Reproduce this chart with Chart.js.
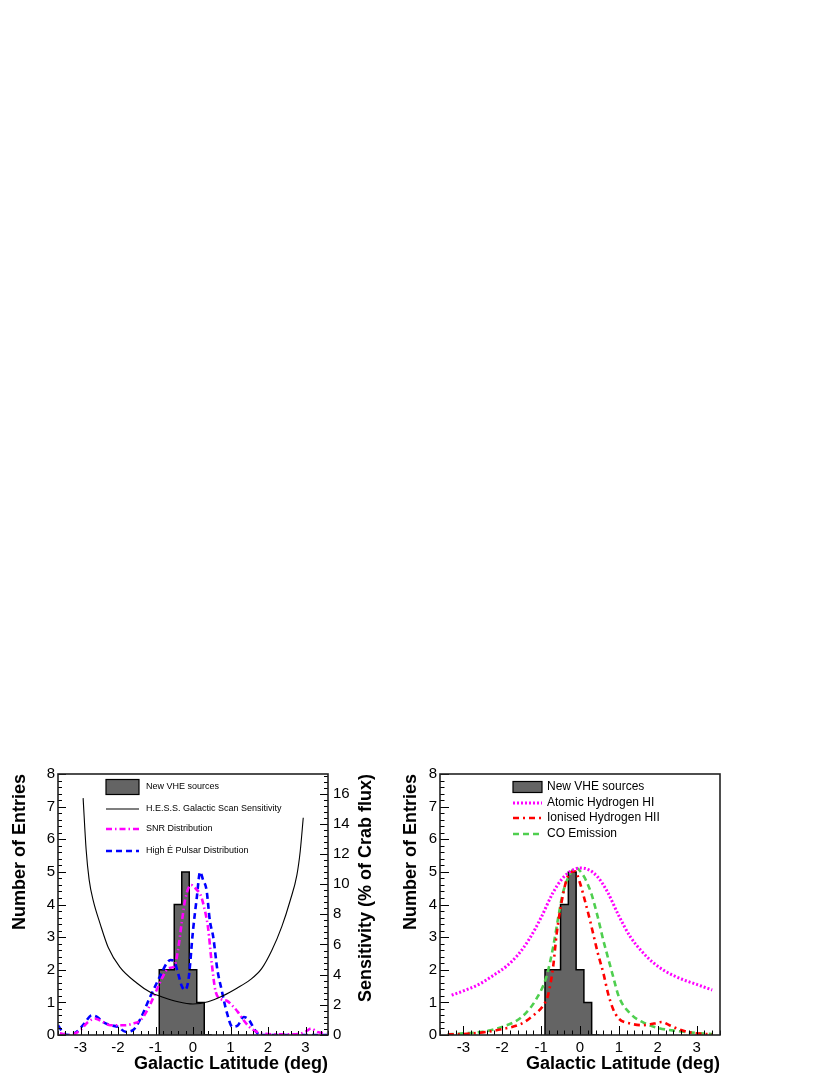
<!DOCTYPE html>
<html>
<head>
<meta charset="utf-8">
<script src="https://cdn.jsdelivr.net/npm/chart.js@4.4.0/dist/chart.umd.min.js"></script>
<style>
  html, body { margin: 0; padding: 0; background: #fff; }
  body { width: 830px; height: 1075px; position: relative; overflow: hidden; }
  canvas { position: absolute; }
  #left { left: 0; top: 740px; }
  #right { left: 400px; top: 740px; }
</style>
</head>
<body>
<canvas id="left" width="400" height="335"></canvas>
<canvas id="right" width="430" height="335"></canvas>
<script>
// histogram of the new sources (same in both panels)
const binCenters = [-0.8, -0.6, -0.4, -0.2, 0.0, 0.2, 0.4];
const binCounts = [1, 2, 2, 4, 5, 2, 1];
const binWidth = 0.2;
const xTickValues = [-3, -2, -1, 0, 1, 2, 3];

// left panel curves
const sensLat = [-2.93, -2.85, -2.77, -2.66, -2.48, -2.26, -1.95, -1.5, -1.15, -0.8, -0.4, 0, 0.4, 0.8, 1.17, 1.52, 1.83, 2.1, 2.37, 2.59, 2.77, 2.86, 2.94];
const sensValue = [15.7, 12.3, 10.3, 8.9, 7.4, 5.8, 4.5, 3.45, 2.85, 2.5, 2.2, 2.05, 2.2, 2.6, 3.1, 3.65, 4.4, 5.6, 7.2, 8.9, 10.6, 12.2, 14.4];

const snrLat = [-3.55, -3.3, -3.0, -2.8, -2.6, -2.4, -2.2, -2.0, -1.8, -1.6, -1.4, -1.2, -1.0, -0.8, -0.65, -0.5, -0.4, -0.3, -0.2, -0.05, 0.1, 0.2, 0.3, 0.4, 0.5, 0.6, 0.75, 0.9, 1.05, 1.2, 1.35, 1.5, 1.7, 2.0, 2.4, 2.8, 3.0, 3.15, 3.3, 3.55];
const snrValue = [0.05, 0.0, 0.15, 0.4, 0.5, 0.4, 0.3, 0.3, 0.3, 0.35, 0.45, 0.8, 1.3, 1.8, 2.05, 2.1, 2.6, 3.45, 4.2, 4.6, 4.45, 4.3, 3.9, 3.3, 2.2, 1.35, 1.1, 1.05, 0.9, 0.7, 0.45, 0.25, 0.1, 0.03, 0.02, 0.03, 0.1, 0.2, 0.1, 0.05];

const psrLat = [-3.6, -3.45, -3.3, -3.1, -2.9, -2.7, -2.55, -2.4, -2.2, -2.0, -1.8, -1.6, -1.4, -1.15, -0.88, -0.7, -0.6, -0.5, -0.4, -0.3, -0.22, -0.12, 0.0, 0.1, 0.19, 0.27, 0.36, 0.45, 0.54, 0.65, 0.76, 0.9, 1.05, 1.2, 1.35, 1.5, 1.65, 1.8, 2.0, 3.6];
const psrValue = [0.3, 0.05, 0.0, 0.1, 0.35, 0.6, 0.55, 0.4, 0.3, 0.25, 0.1, 0.15, 0.5, 1.15, 1.8, 2.2, 2.3, 2.25, 1.9, 1.5, 1.38, 1.7, 3.2, 4.2, 5.0, 4.75, 4.45, 3.5, 3.0, 2.0, 1.4, 0.7, 0.25, 0.3, 0.55, 0.45, 0.15, 0.0, 0.0, 0.0];

// right panel curves
const hiLat = [-3.3, -3.0, -2.6, -2.2, -1.9, -1.6, -1.3, -1.0, -0.7, -0.45, -0.2, 0.0, 0.2, 0.45, 0.7, 1.0, 1.3, 1.6, 1.9, 2.2, 2.6, 3.0, 3.4];
const hiValue = [1.22, 1.35, 1.55, 1.85, 2.1, 2.45, 2.95, 3.6, 4.35, 4.8, 5.05, 5.12, 5.08, 4.85, 4.4, 3.65, 3.0, 2.55, 2.2, 1.95, 1.72, 1.55, 1.38];

const hiiLat = [-3.4, -3.0, -2.5, -2.0, -1.5, -1.2, -0.95, -0.82, -0.69, -0.6, -0.47, -0.3, -0.13, 0.0, 0.13, 0.26, 0.34, 0.46, 0.6, 0.72, 0.85, 1.0, 1.3, 1.6, 1.9, 2.1, 2.3, 2.6, 3.0, 3.4];
const hiiValue = [0.02, 0.03, 0.08, 0.18, 0.35, 0.6, 0.9, 1.23, 2.1, 3.1, 4.1, 4.9, 5.02, 4.66, 4.1, 3.5, 3.1, 2.5, 1.9, 1.28, 0.8, 0.5, 0.35, 0.3, 0.35, 0.4, 0.3, 0.15, 0.05, 0.02];

const coLat = [-3.4, -3.0, -2.5, -2.0, -1.5, -1.11, -0.86, -0.69, -0.56, -0.44, -0.25, -0.1, 0.05, 0.15, 0.3, 0.46, 0.6, 0.69, 0.85, 1.0, 1.3, 1.6, 2.0, 2.5, 3.0, 3.4];
const coValue = [0.02, 0.05, 0.1, 0.25, 0.55, 1.13, 1.8, 2.7, 3.6, 4.35, 4.95, 5.12, 4.95, 4.75, 4.3, 3.6, 2.9, 2.5, 1.8, 1.17, 0.65, 0.4, 0.22, 0.12, 0.06, 0.03];

const FONT = '"Liberation Sans", Arial, Helvetica, sans-serif';

function pts(xs, ys) {
    return xs.map((x, i) => ({ x: x, y: ys[i] }));
}

function histPoints() {
    const out = [{ x: binCenters[0] - binWidth / 2, y: 0 }];
    binCenters.forEach((c, i) => out.push({ x: c - binWidth / 2, y: binCounts[i] }));
    out.push({ x: binCenters[binCenters.length - 1] + binWidth / 2, y: 0 });
    return out;
}

function histDataset() {
    return {
        label: 'New VHE sources',
        data: histPoints(),
        stepped: 'after',
        fill: 'origin',
        backgroundColor: '#646464',
        borderColor: '#000',
        borderWidth: 1.5,
        pointRadius: 0,
        order: 10
    };
}

function curve(label, xs, ys, color, dash, width, axis) {
    return {
        label: label,
        data: pts(xs, ys),
        borderColor: color,
        borderDash: dash,
        borderWidth: width,
        pointRadius: 0,
        fill: false,
        cubicInterpolationMode: 'monotone',
        yAxisID: axis || 'y',
        order: 1
    };
}

// ROOT-like frame with ticks pointing inside
const frameTicks = {
    id: 'frameTicks',
    afterDatasetsDraw(chart, args, opts) {
        const { ctx, chartArea: a, scales } = chart;
        ctx.save();
        ctx.strokeStyle = '#000';
        ctx.lineWidth = 1;
        (opts.axes || []).forEach(ax => {
            const s = scales[ax.id];
            const minor = ax.major / ax.div;
            const n0 = Math.ceil(s.min / minor - 1e-6), n1 = Math.floor(s.max / minor + 1e-6);
            for (let n = n0; n <= n1; n++) {
                const v = n * minor;
                const isMajor = n % ax.div === 0;
                const len = isMajor ? ax.len : ax.len / 2;
                const p = Math.round(s.getPixelForValue(v)) + 0.5;
                ctx.beginPath();
                if (ax.side === 'bottom') { ctx.moveTo(p, a.bottom); ctx.lineTo(p, a.bottom - len); }
                if (ax.side === 'left') { ctx.moveTo(a.left, p); ctx.lineTo(a.left + len, p); }
                if (ax.side === 'right') { ctx.moveTo(a.right, p); ctx.lineTo(a.right - len, p); }
                ctx.stroke();
            }
        });
        ctx.lineWidth = 1.6;
        ctx.strokeStyle = '#222';
        ctx.strokeRect(a.left, a.top, a.right - a.left, a.bottom - a.top);
        if (opts.rightTitle) {
            ctx.save();
            ctx.translate(opts.rightTitle.x, a.top);
            ctx.rotate(-Math.PI / 2);
            ctx.fillStyle = '#000';
            ctx.font = 'bold 18px ' + FONT;
            ctx.textAlign = 'right';
            ctx.textBaseline = 'middle';
            ctx.fillText(opts.rightTitle.text, 0, 0);
            ctx.restore();
        }
        ctx.restore();
    }
};

const boxLegend = {
    id: 'boxLegend',
    afterDraw(chart, args, opts) {
        const ctx = chart.ctx;
        ctx.save();
        ctx.font = opts.fontSize + 'px ' + FONT;
        ctx.textBaseline = 'middle';
        ctx.fillStyle = '#000';
        opts.items.forEach((it, i) => {
            const y = opts.rows[i];
            if (it.box) {
                ctx.fillStyle = '#646464';
                ctx.fillRect(opts.x0, y - opts.boxH / 2, opts.x1 - opts.x0, opts.boxH);
                ctx.strokeStyle = '#000';
                ctx.lineWidth = 1.2;
                ctx.setLineDash([]);
                ctx.strokeRect(opts.x0, y - opts.boxH / 2, opts.x1 - opts.x0, opts.boxH);
            } else {
                ctx.strokeStyle = it.color;
                ctx.lineWidth = it.width;
                ctx.setLineDash(it.dash);
                ctx.beginPath();
                ctx.moveTo(opts.x0, y);
                ctx.lineTo(opts.x1, y);
                ctx.stroke();
            }
            ctx.setLineDash([]);
            ctx.fillStyle = '#000';
            ctx.fillText(it.label, opts.textX, y);
        });
        ctx.restore();
    }
};

function xAxis() {
    return {
        type: 'linear', min: -3.6, max: 3.6,
        afterBuildTicks: s => { s.ticks = xTickValues.map(v => ({ value: v })); },
        afterFit: s => { s.height = 40; },
        grid: { display: false, drawTicks: false },
        border: { display: false },
        ticks: { font: { family: FONT, size: 15 }, color: '#000', padding: 4, maxRotation: 0 },
        title: { display: true, text: 'Galactic Latitude (deg)', align: 'end', color: '#000', padding: 0,
                 font: { family: FONT, size: 18, weight: 'bold' } }
    };
}

function yAxis(width, titlePad) {
    return {
        type: 'linear', position: 'left', min: 0, max: 8,
        afterBuildTicks: s => { s.ticks = [0, 1, 2, 3, 4, 5, 6, 7, 8].map(v => ({ value: v })); },
        afterFit: s => { s.width = width; },
        grid: { display: false, drawTicks: false },
        border: { display: false },
        ticks: { font: { family: FONT, size: 15 }, color: '#000', padding: 3 },
        title: { display: true, text: 'Number of Entries', align: 'end', color: '#000',
                 padding: { top: titlePad, bottom: 0 },
                 font: { family: FONT, size: 18, weight: 'bold' } }
    };
}

Chart.register(frameTicks, boxLegend);

new Chart(document.getElementById('left'), {
    type: 'line',
    data: {
        datasets: [
            histDataset(),
            curve('H.E.S.S. Galactic Scan Sensitivity', sensLat, sensValue, '#000', [], 1.1, 'y2'),
            curve('SNR Distribution', snrLat, snrValue, '#ff00ff', [6, 3, 1.5, 3], 2.6),
            curve('High Ė Pulsar Distribution', psrLat, psrValue, '#0000ff', [6, 4], 2.6)
        ]
    },
    options: {
        responsive: false, animation: false, devicePixelRatio: 1,
        layout: { padding: { top: 34, right: 0, left: 0, bottom: 0 } },
        scales: {
            x: xAxis(),
            y: yAxis(58, 9),
            y2: {
                type: 'linear', position: 'right', min: 0, max: 17.3,
                afterBuildTicks: s => { s.ticks = [0, 2, 4, 6, 8, 10, 12, 14, 16].map(v => ({ value: v })); },
                afterFit: s => { s.width = 72; },
                grid: { display: false, drawTicks: false },
                border: { display: false },
                ticks: { font: { family: FONT, size: 15 }, color: '#000', padding: 5 }
            }
        },
        plugins: {
            legend: { display: false },
            tooltip: { enabled: false },
            frameTicks: {
                axes: [
                    { id: 'x', major: 1, div: 5, side: 'bottom', len: 8 },
                    { id: 'y', major: 1, div: 5, side: 'left', len: 8 },
                    { id: 'y2', major: 2, div: 5, side: 'right', len: 8 }
                ],
                rightTitle: { x: 366, text: 'Sensitivity (% of Crab flux)' }
            },
            boxLegend: {
                fontSize: 9, x0: 106, x1: 139, textX: 146, boxH: 15,
                rows: [47, 69, 89, 111],
                items: [
                    { label: 'New VHE sources', box: true },
                    { label: 'H.E.S.S. Galactic Scan Sensitivity', color: '#000', dash: [], width: 1.1 },
                    { label: 'SNR Distribution', color: '#ff00ff', dash: [6, 3, 1.5, 3], width: 2.6 },
                    { label: 'High Ė Pulsar Distribution', color: '#0000ff', dash: [6, 4], width: 2.6 }
                ]
            }
        }
    }
});

new Chart(document.getElementById('right'), {
    type: 'line',
    data: {
        datasets: [
            histDataset(),
            curve('Atomic Hydrogen HI', hiLat, hiValue, '#ff00ff', [2, 2], 3),
            curve('Ionised Hydrogen HII', hiiLat, hiiValue, '#ff0000', [6, 4, 2, 4], 2.6),
            curve('CO Emission', coLat, coValue, '#4fcf4f', [6, 4], 2.6)
        ]
    },
    options: {
        responsive: false, animation: false, devicePixelRatio: 1,
        layout: { padding: { top: 34, right: 110, left: 0, bottom: 0 } },
        scales: {
            x: xAxis(),
            y: yAxis(40, 0)
        },
        plugins: {
            legend: { display: false },
            tooltip: { enabled: false },
            frameTicks: {
                axes: [
                    { id: 'x', major: 1, div: 5, side: 'bottom', len: 9 },
                    { id: 'y', major: 1, div: 5, side: 'left', len: 9 }
                ]
            },
            boxLegend: {
                fontSize: 12, x0: 113, x1: 142, textX: 147, boxH: 11,
                rows: [47, 63, 78, 94],
                items: [
                    { label: 'New VHE sources', box: true },
                    { label: 'Atomic Hydrogen HI', color: '#ff00ff', dash: [2, 2], width: 3 },
                    { label: 'Ionised Hydrogen HII', color: '#ff0000', dash: [6, 4, 2, 4], width: 2.6 },
                    { label: 'CO Emission', color: '#4fcf4f', dash: [6, 4], width: 2.6 }
                ]
            }
        }
    }
});
</script>
</body>
</html>
